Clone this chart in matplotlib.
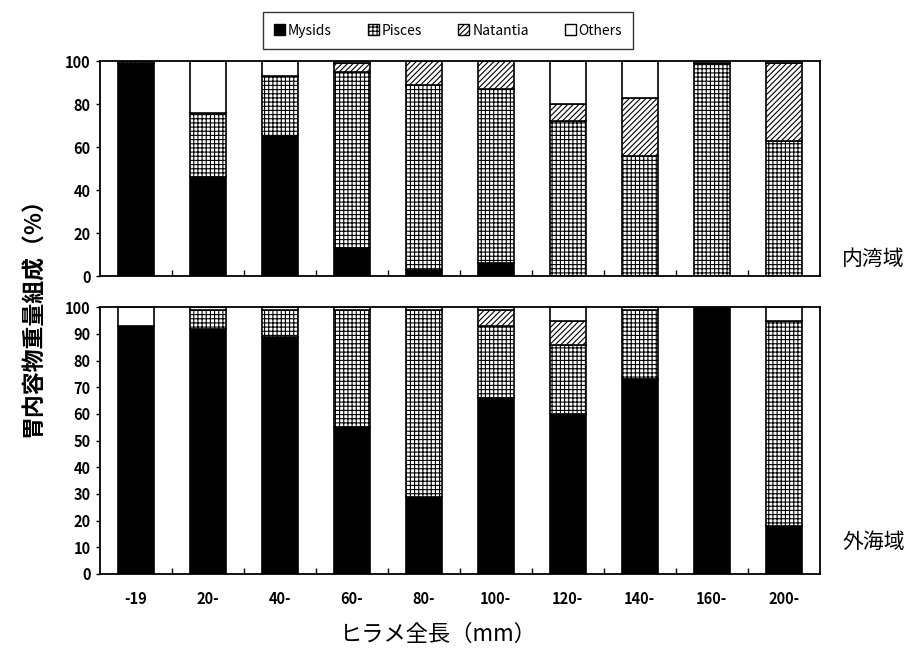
import numpy as np
import matplotlib
matplotlib.use("Agg")
import matplotlib.pyplot as plt
from matplotlib.patches import Patch

plt.rcParams['font.family'] = ['Noto Sans CJK JP', 'DejaVu Sans']
plt.rcParams['hatch.linewidth'] = 0.8

# 全長階級
classes = ["-19", "20-", "40-", "60-", "80-", "100-", "120-", "140-", "160-", "200-"]

# 内湾域 (%)
inner_mysids = [99, 46, 65, 13, 3, 6, 0, 0, 0, 0]
inner_pisces = [1, 30, 28, 82, 86, 81, 72, 56, 99, 63]
inner_natantia = [0, 0, 0, 4, 11, 13, 8, 27, 0, 36]
inner_others = [0, 24, 7, 1, 0, 0, 20, 17, 1, 1]

# 外海域 (%)
outer_mysids = [93, 92, 89, 55, 29, 66, 60, 73, 100, 18]
outer_pisces = [0, 7, 10, 44, 70, 27, 26, 26, 0, 77]
outer_natantia = [0, 0, 0, 0, 0, 6, 9, 0, 0, 0]
outer_others = [7, 1, 1, 1, 1, 1, 5, 1, 0, 5]

labels = ["Mysids", "Pisces", "Natantia", "Others"]
styles = [dict(facecolor="black", hatch=None),
          dict(facecolor="white", hatch="++++"),
          dict(facecolor="white", hatch="//////"),
          dict(facecolor="white", hatch=None)]

fig = plt.figure(figsize=(9.24, 6.49), dpi=100)
ax1 = fig.add_axes([0.108, 0.5747, 0.779, 0.331])
ax2 = fig.add_axes([0.108, 0.1156, 0.779, 0.411])

x = np.arange(len(classes))


def draw(ax, series, yticks):
    bottom = np.zeros(len(classes))
    for vals, st in zip(series, styles):
        vals = np.array(vals, dtype=float)
        ax.bar(x, vals, width=0.5, bottom=bottom, edgecolor="black",
               linewidth=1.2, **st)
        bottom += vals
    ax.set_xlim(-0.5, len(classes) - 0.5)
    ax.set_ylim(0, 100)
    ax.set_yticks(yticks)
    ax.set_xticks(np.arange(0.5, len(classes) - 1, 1))
    ax.set_xticklabels([])
    ax.tick_params(axis="x", direction="in", length=4, width=1)
    ax.tick_params(axis="y", direction="out", length=3, width=1,
                   labelsize=10.5)
    for lab in ax.get_yticklabels():
        lab.set_fontweight("bold")
    for s in ax.spines.values():
        s.set_linewidth(1.3)


draw(ax1, [inner_mysids, inner_pisces, inner_natantia, inner_others],
     range(0, 101, 20))
draw(ax2, [outer_mysids, outer_pisces, outer_natantia, outer_others],
     range(0, 101, 10))

ax2.set_xticks(x, minor=True)
ax2.set_xticklabels(classes, minor=True, fontsize=10.5, fontweight="bold")
ax2.tick_params(axis="x", which="minor", length=0, pad=12)

ax1.text(1.075, 0.08, "内湾域", transform=ax1.transAxes, fontsize=15,
         ha="center", va="center")
ax2.text(1.075, 0.12, "外海域", transform=ax2.transAxes, fontsize=15,
         ha="center", va="center")

fig.text(0.036, 0.52, "胃内容物重量組成（%）", rotation=90, fontsize=16.5,
         fontweight="bold", ha="center", va="center")
fig.text(0.475, 0.023, "ヒラメ全長（mm）", fontsize=16,
         ha="center", va="center")

handles = [Patch(edgecolor="black", linewidth=1, label=l, **st)
           for l, st in zip(labels, styles)]
fig.legend(handles=handles, loc="center", bbox_to_anchor=(0.485, 0.953),
           ncol=4, frameon=True, fancybox=False, edgecolor="black",
           fontsize=10, handlelength=0.8, handleheight=0.8,
           handletextpad=0.2, columnspacing=2.6, borderpad=0.8)

fig.savefig("out.png", dpi=100)
